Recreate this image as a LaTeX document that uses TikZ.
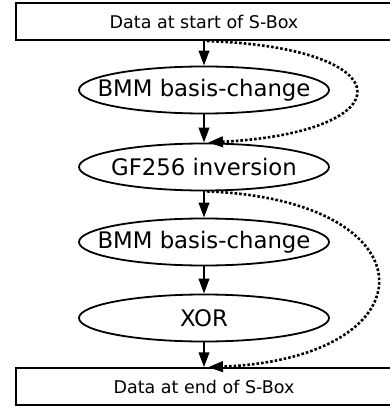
\documentclass[tikz,border=0pt]{standalone}
\usepackage{fontspec}
\setmainfont{DejaVu Sans}
\usepackage{tikz}
\usetikzlibrary{shapes, arrows.meta, positioning}

\begin{document}
\begin{tikzpicture}[
    x=1pt, y=-1pt,
    databox/.style={rectangle, draw, line width=2pt, minimum width=376pt, minimum height=36.5pt,
                    inner sep=0pt, font=\fontsize{17.5}{20}\selectfont},
    proc/.style={ellipse, draw, line width=1.8pt, minimum width=250pt, minimum height=47pt,
                 inner xsep=-20pt, inner ysep=0pt, font=\fontsize{22.8}{26}\selectfont},
    arrow/.style={-{Triangle[length=15pt, width=10.5pt]}, line width=2.3pt},
    bypass/.style={-{Triangle[length=15pt, width=10.5pt]}, line width=2.6pt,
                   dash pattern=on 2.6pt off 2pt}
  ]
    \useasboundingbox (0,0) rectangle (390,409);
    \node[databox] (start) at (204,21.75) {Data at start of S-Box};
    \node[proc] (bmmA) at (204,90) {BMM basis-change};
    \node[proc] (inv) at (204,167) {GF256 inversion};
    \node[proc] (bmmB) at (204,242) {BMM basis-change};
    \node[proc] (xor) at (204,318) {XOR};
    \node[databox] (end) at (204,386.5) {Data at end of S-Box};
    \draw[arrow] (start) -- (bmmA);
    \draw[arrow] (bmmA) -- (inv);
    \draw[arrow] (inv) -- (bmmB);
    \draw[arrow] (bmmB) -- (xor);
    \draw[arrow] (xor) -- (end);
    % skipped stages
    \draw[bypass] ([xshift=3pt]start.south) .. controls (405,48) and (405,132) .. ([xshift=4pt]inv.north);
    \draw[bypass] ([xshift=3pt]inv.south) .. controls (434,200) and (434,358) .. ([xshift=4pt]end.north);
  \end{tikzpicture}
\end{document}
